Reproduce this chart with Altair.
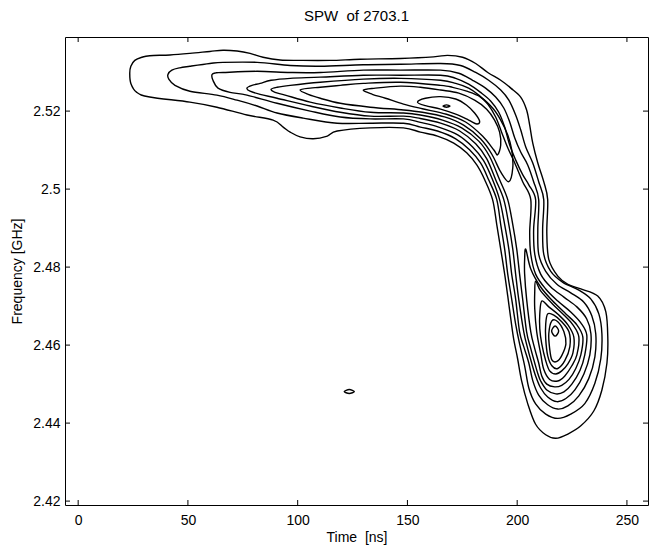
import altair as alt
import pandas as pd

# ---- tick values ----
time_ticks = [0, 50, 100, 150, 200, 250]
freq_ticks = [2.42, 2.44, 2.46, 2.48, 2.50, 2.52]

# ---- contour lines: (time [ns], frequency [GHz]) ----
lvl1 = [(23.5, 2.5297), (24.0, 2.5315), (25.8, 2.5330), (29.0, 2.5338), (32.6, 2.5342),
        (41.8, 2.5344), (50.9, 2.5348), (60.0, 2.5353), (66.0, 2.5356), (72.4, 2.5354),
        (78.3, 2.5348), (84.2, 2.5338), (92.0, 2.5331), (101.1, 2.5330), (114.8, 2.5330),
        (128.5, 2.5333), (146.8, 2.5335), (161.9, 2.5339), (168.3, 2.5343), (175.1, 2.5338),
        (181.1, 2.5322), (186.6, 2.5299), (192.5, 2.5279), (197.1, 2.5259), (201.6, 2.5236),
        (204.3, 2.5203), (205.7, 2.5164), (207.1, 2.5118), (209.4, 2.5067), (212.1, 2.5019),
        (213.9, 2.4973), (213.5, 2.4889), (214.4, 2.4820), (218.5, 2.4777), (223.1, 2.4756),
        (229.0, 2.4744), (236.7, 2.4726), (240.4, 2.4685), (241.3, 2.4616), (240.9, 2.4554),
        (238.6, 2.4485), (234.9, 2.4431), (229.0, 2.4393), (223.1, 2.4372), (217.6, 2.4361),
        (213.0, 2.4370), (208.4, 2.4397), (204.8, 2.4450), (202.0, 2.4509), (200.2, 2.4565),
        (198.4, 2.4616), (197.1, 2.4667), (195.7, 2.4726), (194.3, 2.4782), (192.5, 2.4846),
        (190.7, 2.4909), (188.8, 2.4973), (185.2, 2.5024), (181.6, 2.5062), (177.0, 2.5093),
        (171.1, 2.5118), (163.7, 2.5136), (155.9, 2.5146), (148.2, 2.5157), (133.1, 2.5157),
        (118.0, 2.5149), (113.5, 2.5136), (107.1, 2.5129), (101.1, 2.5134), (96.6, 2.5146),
        (93.4, 2.5159), (88.8, 2.5177), (76.9, 2.5190), (63.2, 2.5210), (50.9, 2.5223),
        (32.6, 2.5236), (26.7, 2.5248), (24.0, 2.5271)]

lvl2 = [(40.9, 2.5294), (42.7, 2.5305), (46.3, 2.5311), (50.9, 2.5315), (60.0, 2.5322),
        (66.0, 2.5325), (81.5, 2.5325), (96.6, 2.5317), (110.3, 2.5315), (129.9, 2.5319),
        (146.8, 2.5320), (165.1, 2.5322), (174.2, 2.5317), (181.1, 2.5299), (187.0, 2.5279),
        (192.5, 2.5254), (196.2, 2.5228), (199.3, 2.5190), (201.6, 2.5152), (203.9, 2.5108),
        (207.1, 2.5067), (209.8, 2.5019), (212.1, 2.4973), (211.6, 2.4897), (212.1, 2.4833),
        (215.3, 2.4789), (220.8, 2.4761), (228.1, 2.4741), (233.6, 2.4718), (237.2, 2.4680),
        (238.6, 2.4629), (238.1, 2.4565), (235.4, 2.4502), (230.8, 2.4450), (224.4, 2.4423),
        (218.5, 2.4412), (213.0, 2.4423), (208.4, 2.4449), (205.3, 2.4490), (203.4, 2.4547),
        (201.1, 2.4603), (199.3, 2.4654), (197.5, 2.4718), (195.7, 2.4782), (194.3, 2.4846),
        (192.5, 2.4909), (190.7, 2.4973), (187.0, 2.5024), (183.3, 2.5067), (178.3, 2.5101),
        (172.0, 2.5129), (163.7, 2.5149), (155.9, 2.5159), (148.2, 2.5169), (133.1, 2.5169),
        (118.0, 2.5169), (102.5, 2.5182), (90.6, 2.5195), (81.5, 2.5213), (72.4, 2.5228),
        (63.2, 2.5241), (50.9, 2.5251), (44.1, 2.5266), (41.3, 2.5282)]

lvl3 = [(61.0, 2.5294), (62.8, 2.5298), (66.0, 2.5299), (81.5, 2.5302), (96.6, 2.5299),
        (110.3, 2.5299), (129.9, 2.5305), (146.8, 2.5305), (165.1, 2.5305), (173.4, 2.5297),
        (179.7, 2.5279), (185.6, 2.5259), (190.2, 2.5236), (193.9, 2.5208), (196.6, 2.5172),
        (198.9, 2.5131), (201.6, 2.5095), (204.8, 2.5062), (207.5, 2.5019), (209.8, 2.4973),
        (209.4, 2.4897), (209.8, 2.4833), (213.0, 2.4789), (218.1, 2.4756), (224.4, 2.4734),
        (230.4, 2.4710), (234.0, 2.4675), (235.8, 2.4629), (235.4, 2.4570), (232.6, 2.4514),
        (228.1, 2.4470), (223.1, 2.4444), (218.5, 2.4436), (213.9, 2.4447), (209.8, 2.4472),
        (207.1, 2.4509), (205.3, 2.4554), (203.0, 2.4596), (201.1, 2.4634), (199.3, 2.4718),
        (197.5, 2.4782), (196.2, 2.4846), (194.3, 2.4909), (192.0, 2.4973), (188.8, 2.5024),
        (184.7, 2.5073), (179.7, 2.5108), (172.9, 2.5139), (164.2, 2.5159), (155.9, 2.5171),
        (148.2, 2.5180), (133.1, 2.5180), (119.4, 2.5185), (105.7, 2.5200), (90.6, 2.5220),
        (76.9, 2.5241), (69.2, 2.5248), (63.7, 2.5259), (61.4, 2.5279)]

lvl4 = [(76.9, 2.5259), (79.2, 2.5266), (82.9, 2.5271), (87.9, 2.5279), (96.6, 2.5284),
        (110.3, 2.5287), (129.9, 2.5292), (146.8, 2.5292), (165.1, 2.5292), (172.0, 2.5284),
        (177.9, 2.5269), (183.3, 2.5248), (187.9, 2.5226), (191.6, 2.5197), (194.3, 2.5159),
        (196.6, 2.5113), (199.3, 2.5075), (202.5, 2.5037), (205.3, 2.5011), (208.4, 2.4973),
        (207.5, 2.4897), (208.0, 2.4833), (210.7, 2.4782), (215.3, 2.4749), (221.3, 2.4723),
        (227.2, 2.4698), (231.7, 2.4667), (233.6, 2.4629), (233.1, 2.4575), (230.4, 2.4526),
        (226.3, 2.4485), (222.2, 2.4463), (218.1, 2.4455), (213.9, 2.4467), (210.7, 2.4490),
        (208.4, 2.4521), (206.6, 2.4554), (204.8, 2.4591), (203.0, 2.4634), (200.7, 2.4718),
        (199.3, 2.4782), (198.0, 2.4846), (196.2, 2.4909), (193.9, 2.4973), (190.2, 2.5024),
        (186.1, 2.5078), (181.1, 2.5116), (173.8, 2.5149), (165.1, 2.5169), (155.9, 2.5181),
        (148.2, 2.5187), (133.1, 2.5187), (119.4, 2.5197), (105.7, 2.5213), (90.6, 2.5233),
        (82.9, 2.5243), (78.3, 2.5251)]

lvl5 = [(87.9, 2.5256), (90.6, 2.5261), (96.6, 2.5266), (110.3, 2.5274), (129.9, 2.5282),
        (146.8, 2.5284), (165.1, 2.5279), (172.0, 2.5271), (177.9, 2.5259), (182.5, 2.5241),
        (186.6, 2.5218), (190.2, 2.5185), (192.9, 2.5146), (195.7, 2.5106), (198.9, 2.5067),
        (202.5, 2.5019), (206.2, 2.4973), (205.7, 2.4889), (206.2, 2.4833), (208.4, 2.4782),
        (213.0, 2.4744), (218.5, 2.4713), (224.4, 2.4685), (229.0, 2.4657), (231.7, 2.4626),
        (230.8, 2.4575), (228.6, 2.4535), (224.9, 2.4500), (221.3, 2.4480), (217.6, 2.4475),
        (213.5, 2.4485), (210.7, 2.4508), (209.4, 2.4527), (208.0, 2.4554), (206.2, 2.4591),
        (204.3, 2.4634), (202.5, 2.4718), (201.1, 2.4782), (199.8, 2.4846), (198.0, 2.4909),
        (195.7, 2.4973), (192.0, 2.5024), (187.5, 2.5083), (182.5, 2.5123), (174.7, 2.5157),
        (166.0, 2.5177), (155.9, 2.5190), (148.2, 2.5195), (133.1, 2.5197), (119.4, 2.5208),
        (105.7, 2.5223), (94.3, 2.5241), (89.7, 2.5248)]

lvl6_ridge = [(101.1, 2.5254), (105.7, 2.5259), (110.3, 2.5261), (119.4, 2.5266), (129.9, 2.5271),
              (146.8, 2.5274), (165.1, 2.5266), (170.6, 2.5261), (177.0, 2.5251), (183.3, 2.5236),
              (188.8, 2.5208), (192.5, 2.5177), (195.7, 2.5139), (197.5, 2.5101), (198.0, 2.5055),
              (196.2, 2.5019), (192.5, 2.5044), (188.4, 2.5090), (183.3, 2.5129), (175.6, 2.5164),
              (166.9, 2.5185), (156.8, 2.5197), (148.2, 2.5203), (133.1, 2.5210), (119.4, 2.5220),
              (110.3, 2.5233), (104.8, 2.5243)]

lvl6_lobe = [(203.9, 2.4846), (206.2, 2.4795), (210.7, 2.4749), (216.2, 2.4713), (222.2, 2.4680),
             (227.2, 2.4652), (229.9, 2.4621), (229.0, 2.4575), (226.7, 2.4540), (223.6, 2.4512),
             (220.3, 2.4497), (217.1, 2.4493), (213.5, 2.4500), (211.2, 2.4521), (209.8, 2.4554),
             (208.0, 2.4591), (206.2, 2.4634), (204.3, 2.4718), (203.4, 2.4782), (203.4, 2.4820)]

lvl7_ridge = [(129.9, 2.5254), (135.4, 2.5259), (146.8, 2.5264), (155.9, 2.5261), (165.1, 2.5254),
              (173.4, 2.5246), (180.6, 2.5228), (186.1, 2.5205), (189.7, 2.5177), (192.0, 2.5146),
              (192.5, 2.5113), (191.1, 2.5088), (189.3, 2.5101), (184.2, 2.5136), (176.5, 2.5172),
              (167.8, 2.5192), (156.8, 2.5206), (148.2, 2.5218), (140.0, 2.5233), (134.0, 2.5243)]

lvl7_lobe = [(208.4, 2.4764), (210.7, 2.4739), (216.2, 2.4705), (221.3, 2.4677), (225.4, 2.4652),
             (228.1, 2.4621), (227.2, 2.4575), (224.9, 2.4547), (221.7, 2.4521), (218.5, 2.4508),
             (214.8, 2.4512), (212.1, 2.4538), (210.7, 2.4578), (208.9, 2.4634), (208.0, 2.4693),
             (208.0, 2.4736)]

lvl8_ridge = [(154.6, 2.5223), (158.2, 2.5233), (165.1, 2.5237), (172.0, 2.5231), (177.0, 2.5215),
              (180.6, 2.5195), (182.9, 2.5174), (181.6, 2.5167), (177.9, 2.5177), (172.0, 2.5192),
              (165.1, 2.5205), (158.2, 2.5214)]

lvl8_lobe = [(211.2, 2.4713), (214.4, 2.4698), (219.0, 2.4677), (223.1, 2.4652), (225.8, 2.4621),
             (225.4, 2.4580), (223.1, 2.4552), (220.3, 2.4534), (217.6, 2.4526), (214.8, 2.4534),
             (213.0, 2.4560), (211.2, 2.4603), (210.3, 2.4642), (210.3, 2.4680)]

lvl9_ridge = [(166.2, 2.5213), (167.8, 2.5216), (169.4, 2.5213), (167.8, 2.5210)]

lvl9_lobe = [(213.9, 2.4680), (216.7, 2.4677), (220.3, 2.4660), (223.6, 2.4634), (224.0, 2.4596),
             (221.7, 2.4560), (218.5, 2.4540), (215.8, 2.4547), (213.9, 2.4573), (213.0, 2.4616),
             (213.0, 2.4654)]

lvl10_lobe = [(215.8, 2.4662), (218.5, 2.4660), (221.3, 2.4634), (222.2, 2.4603), (220.3, 2.4573),
              (218.1, 2.4558), (215.8, 2.4562), (214.8, 2.4591), (214.4, 2.4629)]

lvl11_lobe = [(215.7, 2.4636), (217.3, 2.4649), (218.9, 2.4636), (217.3, 2.4623)]

island = [(121.2, 2.4481), (123.5, 2.4486), (125.8, 2.4481), (123.5, 2.4476)]

contours = {
    "lvl1": lvl1, "lvl2": lvl2, "lvl3": lvl3, "lvl4": lvl4, "lvl5": lvl5,
    "lvl6_ridge": lvl6_ridge, "lvl6_lobe": lvl6_lobe,
    "lvl7_ridge": lvl7_ridge, "lvl7_lobe": lvl7_lobe,
    "lvl8_ridge": lvl8_ridge, "lvl8_lobe": lvl8_lobe,
    "lvl9_ridge": lvl9_ridge, "lvl9_lobe": lvl9_lobe,
    "lvl10_lobe": lvl10_lobe, "lvl11_lobe": lvl11_lobe,
    "island": island,
}

rows = []
for name, pts in contours.items():
    for i, (t, f) in enumerate(pts):
        rows.append({"contour": name, "i": i, "t": t, "f": f})
df = pd.DataFrame(rows)

W, H = 583, 468
FONT = "Liberation Sans"
xs = alt.Scale(domain=[-6, 259.6], nice=False, zero=False)
ys = alt.Scale(domain=[2.419, 2.539], nice=False, zero=False)

lines = alt.Chart(df).mark_line(
    color="black", strokeWidth=1.4, interpolate="cardinal-closed"
).encode(
    x=alt.X("t:Q", scale=xs,
            axis=alt.Axis(values=time_ticks, title="Time\u00a0 [ns]", labelPadding=8,
                          titlePadding=3)),
    y=alt.Y("f:Q", scale=ys,
            axis=alt.Axis(values=freq_ticks, format="~g", title="Frequency [GHz]",
                          labelPadding=5, titlePadding=8)),
    detail="contour:N",
    order="i:Q",
)

xt = pd.DataFrame({"t": time_ticks})
yt = pd.DataFrame({"f": freq_ticks})
tick_len = 5
bottom_ticks = alt.Chart(xt).mark_rule(color="black", strokeWidth=1).encode(
    x=alt.X("t:Q", scale=xs), y=alt.value(H), y2=alt.value(H - tick_len))
top_ticks = alt.Chart(xt).mark_rule(color="black", strokeWidth=1).encode(
    x=alt.X("t:Q", scale=xs), y=alt.value(0), y2=alt.value(tick_len))
left_ticks = alt.Chart(yt).mark_rule(color="black", strokeWidth=1).encode(
    y=alt.Y("f:Q", scale=ys), x=alt.value(0), x2=alt.value(tick_len))
right_ticks = alt.Chart(yt).mark_rule(color="black", strokeWidth=1).encode(
    y=alt.Y("f:Q", scale=ys), x=alt.value(W), x2=alt.value(W - tick_len))

chart = alt.layer(lines, bottom_ticks, top_ticks, left_ticks, right_ticks).properties(
    width=W, height=H,
    title=alt.TitleParams("SPW\u00a0 of 2703.1", fontSize=15, font=FONT, fontWeight="normal",
                          color="black", anchor="middle", offset=13),
    padding={"left": 65, "top": 37, "right": 1, "bottom": 40},
    autosize=alt.AutoSizeParams(type="none"),
).configure_view(
    stroke="black", strokeWidth=1
).configure_axis(
    grid=False, domain=False, ticks=False, tickSize=0,
    labelFont=FONT, labelFontSize=14, labelColor="black",
    titleFont=FONT, titleFontSize=14, titleFontWeight="normal", titleColor="black",
)

chart.save("out.html", embed_options={"renderer": "svg", "actions": False})
